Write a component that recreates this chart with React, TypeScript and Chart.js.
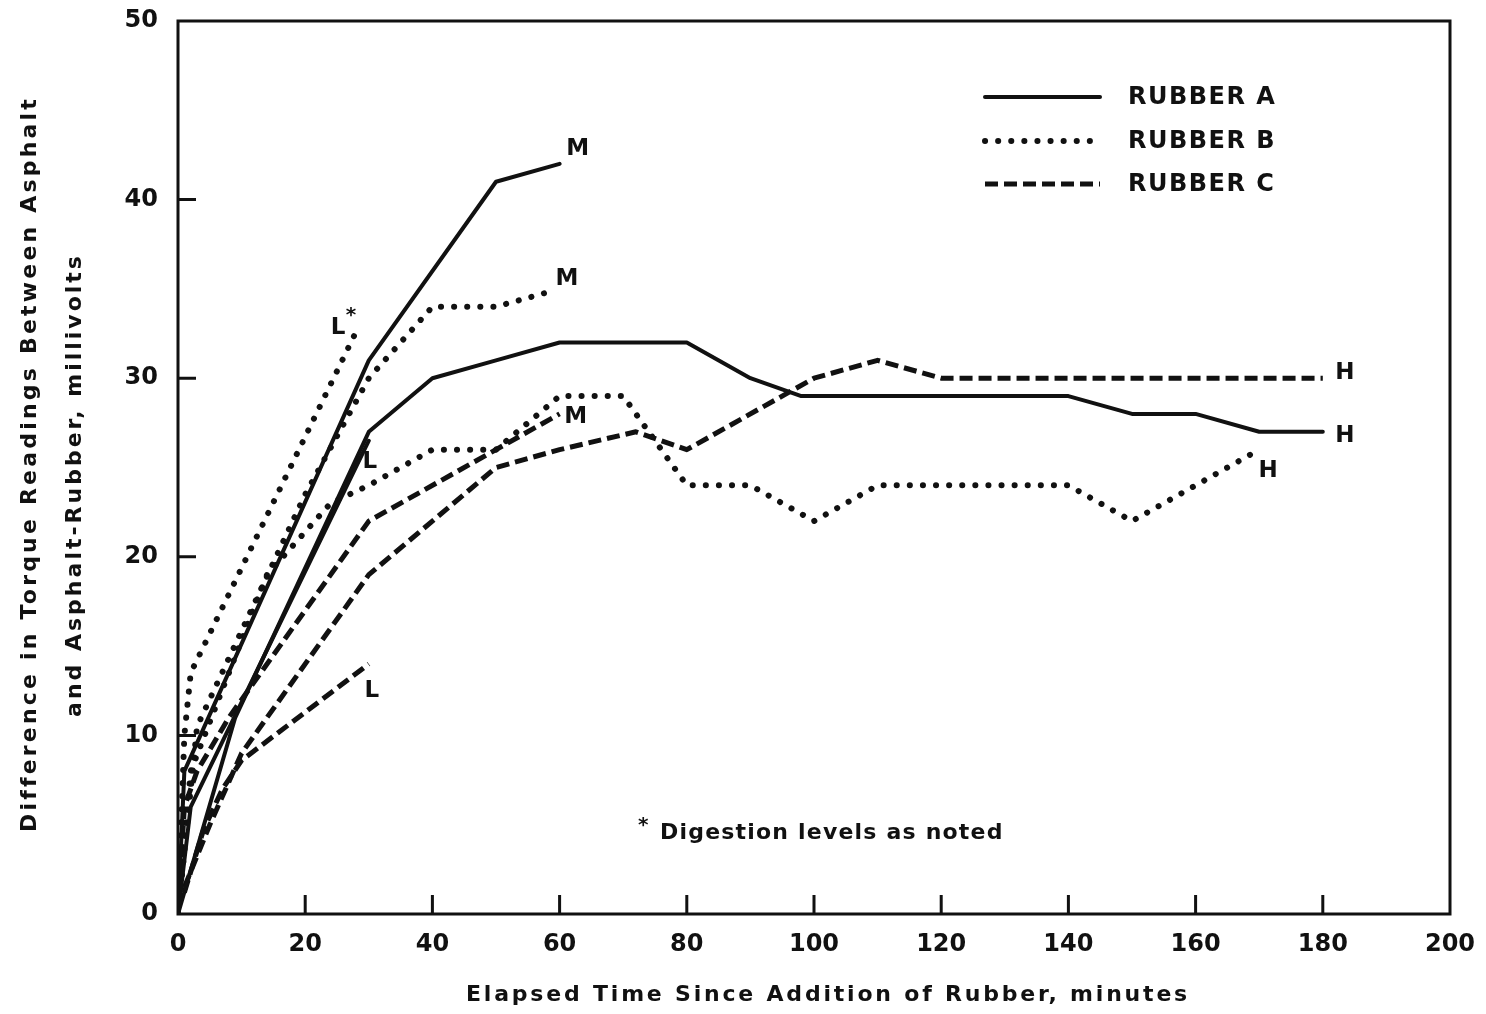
import React, { useEffect, useRef } from "react";
import { Chart, registerables } from "chart.js";

Chart.register(...registerables);

// Axis ticks
const X_TICKS = [0, 20, 40, 60, 80, 100, 120, 140, 160, 180, 200];
const Y_TICKS = [0, 10, 20, 30, 40, 50];

// Rubber A (solid)
const A_LOW_TIME = [0, 2, 30];
const A_LOW_DIFF = [0, 6, 26.5];
const A_MED_TIME = [0, 1, 30, 50, 60];
const A_MED_DIFF = [0, 8, 31, 41, 42];
const A_HIGH_TIME = [0, 9, 30, 40, 50, 60, 80, 90, 98, 140, 150, 160, 170, 180];
const A_HIGH_DIFF = [0, 11, 27, 30, 31, 32, 32, 30, 29, 29, 28, 28, 27, 27];

// Rubber B (dotted)
const B_LOW_TIME = [0, 1, 2, 28];
const B_LOW_DIFF = [0, 10, 13.5, 32.6];
const B_MED_TIME = [0, 3, 20, 30, 40, 50, 58];
const B_MED_DIFF = [0, 10.5, 23.5, 30, 34, 34, 34.8];
const B_HIGH_TIME = [0, 2, 14, 24, 30, 40, 50, 60, 70, 80, 90, 100, 110, 140, 150, 170];
const B_HIGH_DIFF = [0, 8, 19, 23, 24, 26, 26, 29, 29, 24, 24, 22, 24, 24, 22, 26];

// Rubber C (dashed)
const C_LOW_TIME = [1, 4, 7, 10, 30];
const C_LOW_DIFF = [1.2, 4.7, 7, 8.6, 14];
const C_MED_TIME = [0, 1, 3, 8, 30, 60];
const C_MED_DIFF = [0, 6, 8, 11, 22, 28];
const C_HIGH_TIME = [1, 5, 10, 30, 50, 60, 72, 80, 100, 110, 120, 180];
const C_HIGH_DIFF = [1.5, 5, 9, 19, 25, 26, 27, 26, 30, 31, 30, 30];

const LEGEND_LABELS = ["RUBBER A", "RUBBER B", "RUBBER C"];
const X_TITLE = "Elapsed Time Since Addition of Rubber, minutes";
const Y_TITLE_1 = "Difference in Torque Readings Between Asphalt";
const Y_TITLE_2 = "and Asphalt-Rubber, millivolts";
const NOTE = "Digestion levels as noted";

const INK = "#111";
const FONT = "'DejaVu Sans', 'Noto Sans', sans-serif";

type Style = { width: number; dash: number[]; cap: CanvasLineCap };
const STYLES: Style[] = [
  { width: 4, dash: [], cap: "round" },
  { width: 6, dash: [0.1, 13], cap: "round" },
  { width: 5, dash: [13, 6], cap: "butt" },
];

type Series = {
  time: number[];
  diff: number[];
  rubber: number;
  tag: string;
  star?: boolean;
  dx: number;
  dy: number;
};

const SERIES: Series[] = [
  { time: A_LOW_TIME, diff: A_LOW_DIFF, rubber: 0, tag: "L", dx: 1, dy: 21 },
  { time: A_MED_TIME, diff: A_MED_DIFF, rubber: 0, tag: "M", dx: 18, dy: -15 },
  { time: A_HIGH_TIME, diff: A_HIGH_DIFF, rubber: 0, tag: "H", dx: 22, dy: 4 },
  { time: B_LOW_TIME, diff: B_LOW_DIFF, rubber: 1, tag: "L", star: true, dx: -18, dy: -4 },
  { time: B_MED_TIME, diff: B_MED_DIFF, rubber: 1, tag: "M", dx: 20, dy: -13 },
  { time: B_HIGH_TIME, diff: B_HIGH_DIFF, rubber: 1, tag: "H", dx: 9, dy: 21 },
  { time: C_LOW_TIME, diff: C_LOW_DIFF, rubber: 2, tag: "L", dx: 3, dy: 27 },
  { time: C_MED_TIME, diff: C_MED_DIFF, rubber: 2, tag: "M", dx: 16, dy: 3 },
  { time: C_HIGH_TIME, diff: C_HIGH_DIFF, rubber: 2, tag: "H", dx: 22, dy: -5 },
];

const decorations = {
  id: "decorations",
  afterDraw(chart: any) {
    const { ctx, chartArea } = chart;
    const xs = chart.scales.x;
    const ys = chart.scales.y;
    const { left, right, top, bottom } = chartArea;
    ctx.save();
    ctx.strokeStyle = INK;
    ctx.fillStyle = INK;

    // frame
    ctx.lineWidth = 3;
    ctx.lineJoin = "miter";
    ctx.strokeRect(left, top, right - left, bottom - top);

    // inward tick marks
    ctx.lineWidth = 3;
    ctx.beginPath();
    X_TICKS.slice(1, -1).forEach((t) => {
      const px = xs.getPixelForValue(t);
      ctx.moveTo(px, bottom);
      ctx.lineTo(px, bottom - 19);
    });
    Y_TICKS.slice(1, -1).forEach((v) => {
      const py = ys.getPixelForValue(v);
      ctx.moveTo(left, py);
      ctx.lineTo(left + 18, py);
    });
    ctx.stroke();

    // curve tags
    ctx.font = `bold 23px ${FONT}`;
    ctx.textAlign = "center";
    ctx.textBaseline = "middle";
    SERIES.forEach((s, i) => {
      const meta = chart.getDatasetMeta(i);
      const pt = meta.data[meta.data.length - 1];
      const x = pt.x + s.dx;
      const y = pt.y + s.dy;
      ctx.fillText(s.tag, x, y);
      if (s.star) {
        ctx.font = `bold 20px ${FONT}`;
        ctx.fillText("*", x + 13, y - 12);
        ctx.font = `bold 23px ${FONT}`;
      }
    });

    // legend
    const lx0 = left + 807;
    const lx1 = lx0 + 115;
    [97, 141, 184].forEach((ly, i) => {
      const st = STYLES[i];
      ctx.save();
      ctx.lineWidth = st.width;
      ctx.setLineDash(st.dash);
      ctx.lineCap = st.cap;
      ctx.beginPath();
      ctx.moveTo(lx0, ly);
      ctx.lineTo(lx1, ly);
      ctx.stroke();
      ctx.restore();
      ctx.font = `bold 24px ${FONT}`;
      (ctx as any).letterSpacing = "1.5px";
      ctx.textAlign = "left";
      ctx.fillText(LEGEND_LABELS[i], lx1 + 28, ly + 1);
      (ctx as any).letterSpacing = "0px";
    });

    // note
    ctx.font = `bold 22px ${FONT}`;
    (ctx as any).letterSpacing = "1.2px";
    ctx.textAlign = "left";
    ctx.fillText(NOTE, 660, 833);
    ctx.font = `bold 20px ${FONT}`;
    ctx.fillText("*", 638, 826);

    // axis titles
    ctx.font = `bold 22px ${FONT}`;
    (ctx as any).letterSpacing = "2.8px";
    ctx.textAlign = "center";
    ctx.fillText(X_TITLE, (left + right) / 2 + 14, 995);

    ctx.save();
    ctx.translate(30, 464);
    ctx.rotate(-Math.PI / 2);
    (ctx as any).letterSpacing = "3.2px";
    ctx.fillText(Y_TITLE_1, 0, 0);
    ctx.restore();

    ctx.save();
    ctx.translate(75, 485);
    ctx.rotate(-Math.PI / 2);
    (ctx as any).letterSpacing = "3.0px";
    ctx.fillText(Y_TITLE_2, 0, 0);
    ctx.restore();

    ctx.restore();
  },
};

export default function App() {
  const canvasRef = useRef<HTMLCanvasElement | null>(null);

  useEffect(() => {
    const canvas = canvasRef.current;
    if (!canvas) return;
    const datasets = SERIES.map((s) => {
      const st = STYLES[s.rubber];
      return {
        label: `${LEGEND_LABELS[s.rubber]} ${s.tag}`,
        data: s.time.map((t, k) => ({ x: t, y: s.diff[k] })),
        borderColor: INK,
        backgroundColor: INK,
        borderWidth: st.width,
        borderDash: st.dash,
        borderCapStyle: st.cap,
        borderJoinStyle: "round" as CanvasLineJoin,
        pointRadius: 0,
        fill: false,
        tension: 0,
      };
    });

    const chart = new Chart(canvas, {
      type: "line",
      data: { datasets },
      plugins: [decorations],
      options: {
        animation: false,
        responsive: false,
        maintainAspectRatio: false,
        layout: { padding: { top: 21, right: 36, left: 0, bottom: 0 } },
        plugins: { legend: { display: false }, tooltip: { enabled: false } },
        scales: {
          x: {
            type: "linear",
            min: 0,
            max: 200,
            afterFit: (s: any) => {
              s.height = 100;
              s.paddingLeft = 0;
              s.paddingRight = 0;
            },
            afterBuildTicks: (s: any) => {
              s.ticks = X_TICKS.map((v) => ({ value: v }));
            },
            grid: { display: false, drawTicks: false },
            border: { display: false },
            ticks: {
              color: INK,
              padding: 16,
              maxRotation: 0,
              font: { family: FONT, weight: "bold", size: 24 },
            },
          },
          y: {
            type: "linear",
            min: 0,
            max: 50,
            afterFit: (s: any) => {
              s.width = 178;
              s.paddingTop = 0;
              s.paddingBottom = 0;
            },
            afterBuildTicks: (s: any) => {
              s.ticks = Y_TICKS.map((v) => ({ value: v }));
            },
            grid: { display: false, drawTicks: false },
            border: { display: false },
            ticks: {
              color: INK,
              padding: 20,
              font: { family: FONT, weight: "bold", size: 24 },
            },
          },
        },
      },
    } as any);
    return () => chart.destroy();
  }, []);

  return (
    <div style={{ position: "fixed", left: 0, top: 0, width: 1486, height: 1014, background: "#fff" }}>
      <canvas ref={canvasRef} width={1486} height={1014} style={{ width: 1486, height: 1014 }} />
    </div>
  );
}
